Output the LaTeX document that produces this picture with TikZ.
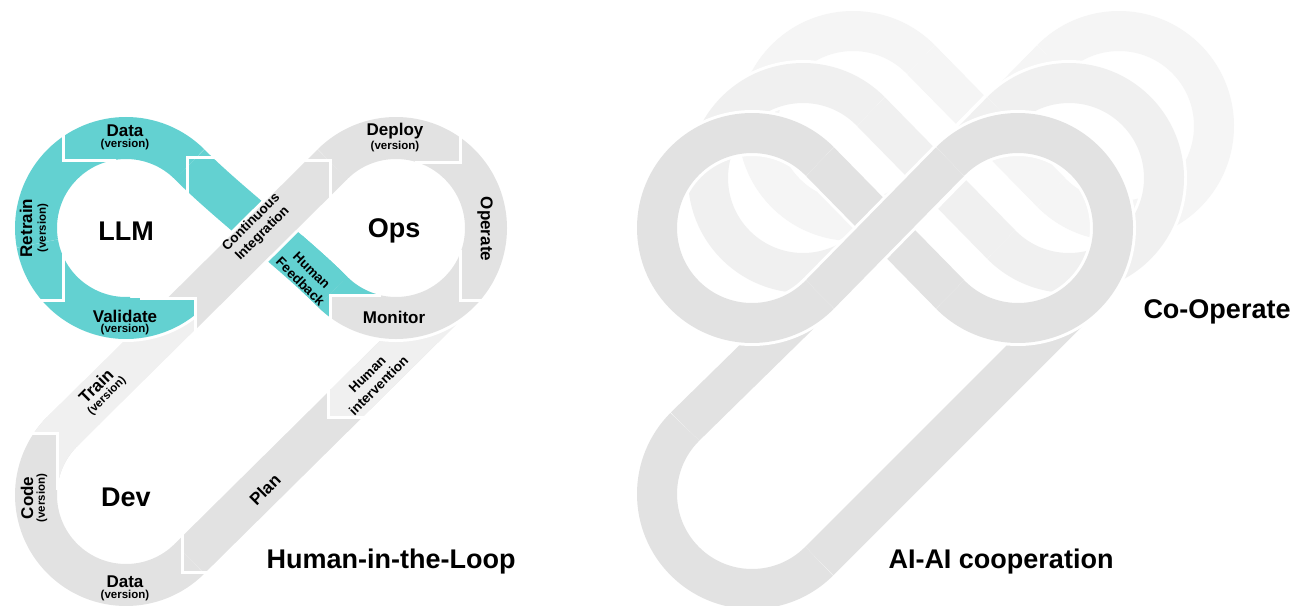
\documentclass[tikz,border=0pt]{standalone}
\usepackage{fontspec}
\setmainfont{Liberation Sans}
\usepackage{xcolor}
\usetikzlibrary{positioning}

\definecolor{llmteal}{HTML}{63D1D1}
\definecolor{loopgrey}{HTML}{E2E2E2}
\definecolor{loopmist}{HTML}{F0F0F0}
\definecolor{looppale}{HTML}{F5F5F5}

% one figure-eight of the co-operation picture (left lobe at the origin)
\newcommand{\coopeight}[1]{%
  \draw[cooprim] (67.8,-66.5) -- (198.2,66.5);
  \draw[coopband, #1] (67.8,-66.5) -- (198.2,66.5);
  \draw[cooprim] (67.8,66.5) -- (198.2,-66.5);
  \draw[coopband, #1] (67.8,66.5) -- (198.2,-66.5);
  \draw[cooprim] (0,0) ++(-44.4:95) arc[start angle=-44.4, end angle=-315.6, radius=95];
  \draw[coopband, #1] (0,0) ++(-44.4:95) arc[start angle=-44.4, end angle=-315.6, radius=95];
  \draw[cooprim] (266,0) ++(-135.6:95) arc[start angle=-135.6, end angle=135.6, radius=95];
  \draw[coopband, #1] (266,0) ++(-135.6:95) arc[start angle=-135.6, end angle=135.6, radius=95];
}

\begin{document}
\begin{tikzpicture}[
    x=1pt, y=-1pt,
    loopband/.style={line width=42pt},
    looprim/.style={line width=48pt, white},
    coopband/.style={line width=40pt},
    cooprim/.style={line width=46pt, white},
    gapline/.style={draw=white, line width=3pt},
    hublabel/.style={font=\fontsize{27}{30}\selectfont\bfseries, inner sep=0pt},
    seglabel/.style={font=\fontsize{17}{17}\selectfont\bfseries, inner sep=0pt},
    verlabel/.style={font=\fontsize{11.5}{12}\selectfont\bfseries, inner sep=0pt},
    notelabel/.style={font=\fontsize{13.5}{16}\selectfont\bfseries, inner sep=0pt, align=center}
]
\useasboundingbox (0,0) rectangle (1306,605);
\clip (0,0) rectangle (1306,605);

% =====================
% Left: Human-in-the-Loop
% =====================
% back bands: Train, Plan, Human intervention
\draw[loopband, loopmist] (62.4,431.4) -- (197.4,297.9);
\draw[loopband, loopgrey] (189.6,558.6) -- (459.6,291.6);
\begin{scope}
  \clip (328,250) rectangle (520,417);
  \draw[loopband, loopmist] (189.6,558.6) -- (459.6,291.6);
\end{scope}

% Dev loop
\draw[loopband, loopgrey] (126,495) ++(225:90) arc[start angle=225, end angle=45, radius=90];
\begin{scope}
  \clip (0,380) -- (100,380) -- (100,495) -- (57,495) -- (57,433) -- (0,433) -- cycle;
  \draw[loopband, loopmist] (126,495) ++(195:90) arc[start angle=195, end angle=228, radius=90];
  \draw[loopband, loopmist] (62.4,431.4) -- (197.4,297.9);
\end{scope}

% LLM loop and the diagonal down to Ops
\draw[loopband, llmteal] (126,228) ++(-45:90) arc[start angle=-45, end angle=-270, radius=90];
\draw[loopband, llmteal] (189.6,164.4) .. controls (229.6,204.4) and (292.4,251.6) .. (332.4,291.6);

% Continuous Integration, in front
\begin{scope}
  \clip (197,600) -- (197,298) -- (0,298) -- (0,0) -- (600,0) -- (600,600) -- cycle;
  \draw[looprim] (150,345) -- (332.4,164.4);
  \draw[loopband, loopgrey] (150,345) -- (332.4,164.4);
\end{scope}

% Ops loop
\draw[looprim] (396,228) ++(40:90) arc[start angle=40, end angle=125, radius=90];
\draw[loopband, loopgrey] (396,228) ++(-135:90) arc[start angle=-135, end angle=135, radius=90];

% Human Feedback tip over the Ops loop
\begin{scope}
  \clip (300,235) -- (385,235) -- (385,295) -- (330,295) -- (330,360) -- (300,360) -- cycle;
  \draw[loopband, llmteal] (189.6,164.4) .. controls (229.6,204.4) and (292.4,251.6) .. (332.4,291.6);
  \draw[loopband, llmteal] (396,228) ++(90:90) arc[start angle=90, end angle=135, radius=90];
\end{scope}

% Validate, in front of Continuous Integration
\begin{scope}
  \clip (0,228) -- (130,228) -- (130,298) -- (195,298) -- (195,420) -- (0,420) -- cycle;
  \draw[looprim] (126,228) ++(170:90) arc[start angle=170, end angle=42, radius=90];
  \draw[loopband, llmteal] (126,228) ++(170:90) arc[start angle=170, end angle=42, radius=90];
\end{scope}

% cuts between the segments
\draw[gapline] (63,134) -- (63,160) -- (116,160);
\draw[gapline] (214,157) -- (187,157) -- (187,197);
\draw[gapline] (38,300) -- (63,300) -- (63,254);
\draw[gapline] (140,298) -- (195.5,298) -- (195.5,340);
\draw[gapline] (305,160) -- (330,160) -- (330,200);
\draw[gapline] (460,133) -- (460,162) -- (415,162);
\draw[gapline] (484,300) -- (460,300) -- (460,250);
\draw[gapline] (330,345) -- (330,295) -- (381,295);
\draw[gapline] (328,388) -- (328,417) -- (366,417);
\draw[gapline] (28,433) -- (57,433) -- (57,490);
\draw[gapline] (182,534) -- (182,572) -- (212,572);

% labels
\node[hublabel] (llm) at (126,231) {LLM};
\node[hublabel] (ops) at (394,231) {Ops};
\node[hublabel] (dev) at (126,497) {Dev};

\node[seglabel] (dataA) at (125,131) {Data};
\node[verlabel, below=2pt of dataA] (dataAver) {(version)};
\node[seglabel, rotate=90] (retrain) at (26,228) {Retrain};
\node[verlabel, rotate=90] (retrainver) at (43,228) {(version)};
\node[seglabel] (validate) at (125,316) {Validate};
\node[verlabel, below=2pt of validate] (validatever) {(version)};
\node[notelabel, rotate=45] (integ) at (257,228) {Continuous\\Integration};
\node[notelabel, rotate=-45] (feedback) at (306,276) {Human\\Feedback};

\node[seglabel] (deploy) at (395,131) {Deploy};
\node[verlabel, below=2pt of deploy] (deployver) {(version)};
\node[seglabel, rotate=-90] (operate) at (485,229) {Operate};
\node[seglabel] (monitor) at (394,317) {Monitor};
\node[notelabel, rotate=45] (interv) at (373,380) {Human\\intervention};

\node[seglabel, rotate=45] (plan) at (265,490) {Plan};
\node[seglabel, rotate=45] (train) at (96,386) {Train};
\node[verlabel, rotate=45] (trainver) at (107,396) {(version)};
\node[seglabel, rotate=90] (code) at (27,498) {Code};
\node[verlabel, rotate=90] (codever) at (42,498) {(version)};
\node[seglabel] (dataB) at (125,582) {Data};
\node[verlabel, below=2pt of dataB] (dataBver) {(version)};

\node[hublabel] (hitl) at (391,562) {Human-in-the-Loop};

% =====================
% Right: AI-AI cooperation
% =====================
\begin{scope}[shift={(752,228)}]
  \begin{scope}[shift={(101,-102)}]
    \coopeight{looppale}
  \end{scope}
  \begin{scope}[shift={(51,-50)}]
    \coopeight{loopmist}
  \end{scope}
  % tail loop of the front layer
  \draw[cooprim] (67.2,333.2) -- (333.2,67.2);
  \draw[coopband, loopgrey] (67.2,333.2) -- (333.2,67.2);
  \draw[cooprim] (-67.2,198.8) -- (67.8,66.5);
  \draw[coopband, loopgrey] (-67.2,198.8) -- (67.8,66.5);
  \draw[cooprim] (0,266) ++(225:95) arc[start angle=225, end angle=45, radius=95];
  \draw[coopband, loopgrey] (0,266) ++(225:95) arc[start angle=225, end angle=45, radius=95];
  \coopeight{loopgrey}
\end{scope}

\node[hublabel] (coop) at (1217,312) {Co-Operate};
\node[hublabel] (aiai) at (1001,562) {AI-AI cooperation};

\end{tikzpicture}
\end{document}
